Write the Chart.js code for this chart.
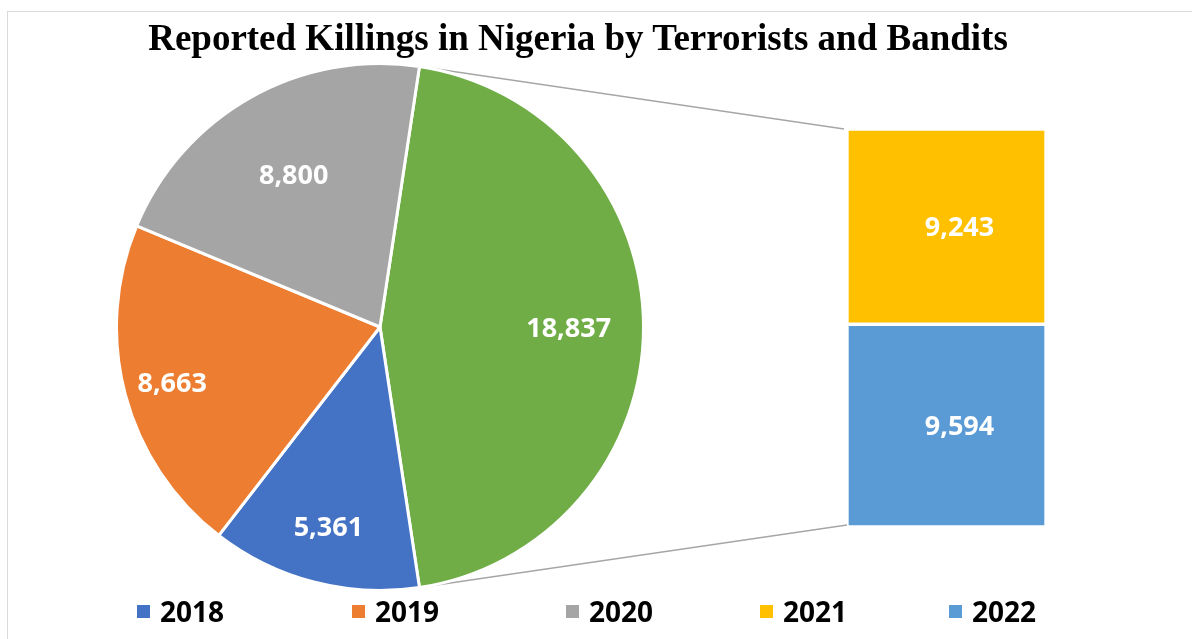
<!DOCTYPE html>
<html>
<head>
<meta charset="utf-8">
<script src="https://cdn.jsdelivr.net/npm/chart.js@4.4.1/dist/chart.umd.min.js"></script>
<style>
    html, body { margin: 0; padding: 0; background: #fff; overflow: hidden; }
    #wrap { position: relative; width: 1192px; height: 639px; overflow: hidden; }
    #frame { position: absolute; left: 7px; top: 11px; width: 1300px; height: 800px; border: 1px solid #d9d9d9; }
    #title {
        position: absolute; left: 0; top: 19px; width: 1156px; text-align: center;
        font-family: "Liberation Serif", "Times New Roman", serif; font-weight: bold; font-size: 37px; line-height: 37px;
        color: #000;
    }
    #pieBox { position: absolute; left: 115px; top: 62px; width: 530px; height: 530px; }
    #barBox { position: absolute; left: 847px; top: 129px; width: 199px; height: 398px; }
    #overlay { position: absolute; left: 0; top: 0; }
    .leg { position: absolute; top: 596px; height: 30px; display: flex; align-items: center;
        font-family: "Open Sans", sans-serif; font-weight: bold; font-size: 28px; color: #000; }
    .leg span.box { width: 13px; height: 13px; margin-right: 10px; display: inline-block; }
</style>
</head>
<body>
<div id="wrap">
    <div id="frame"></div>
    <canvas id="overlay" width="1192" height="639"></canvas>
    <div id="title">Reported Killings in Nigeria by Terrorists and Bandits</div>
    <div id="pieBox"><canvas id="pieChart"></canvas></div>
    <div id="barBox"><canvas id="barChart"></canvas></div>
    <div id="legend"></div>
</div>
<script>
// data
const years = ['2018', '2019', '2020', '2021', '2022'];
const killings = [5361, 8663, 8800, 9243, 9594];
const colours = ['#4472C4', '#ED7D31', '#A5A5A5', '#FFC000', '#5B9BD5'];

// 2021 and 2022 are split out into the bar on the right
const pieLabels = ['Other', '2018', '2019', '2020'];
const otherTotal = killings[3] + killings[4];
const pieValues = [otherTotal, killings[0], killings[1], killings[2]];
const pieColours = ['#70AD47', colours[0], colours[1], colours[2]];
const pieTotal = pieValues.reduce((a, b) => a + b, 0);

// where the labels sit inside each slice (fraction of radius)
const labelRadius = [0.716, 0.78, 0.816, 0.667];
const fmt = v => v.toLocaleString('en-US');
const labelSize = 27;
const labelFont = 'bold ' + labelSize + 'px "Open Sans", sans-serif';
// digits are ~0.714em tall, so put the baseline half that below the centre
const baseShift = labelSize * 0.714 / 2;

const pieLabelPlugin = {
    id: 'pieLabels',
    afterDatasetsDraw(chart) {
        const ctx = chart.ctx;
        const meta = chart.getDatasetMeta(0);
        ctx.save();
        ctx.font = labelFont;
        ctx.fillStyle = '#fff';
        ctx.textAlign = 'center';
        ctx.textBaseline = 'alphabetic';
        meta.data.forEach((arc, i) => {
            const p = arc.getProps(['x', 'y', 'startAngle', 'endAngle', 'outerRadius'], true);
            const mid = (p.startAngle + p.endAngle) / 2;
            const r = p.outerRadius * labelRadius[i];
            ctx.fillText(fmt(pieValues[i]), p.x + Math.cos(mid) * r, p.y + Math.sin(mid) * r + baseShift);
        });
        ctx.restore();
    }
};

const barLabelPlugin = {
    id: 'barLabels',
    afterDatasetsDraw(chart) {
        const ctx = chart.ctx;
        ctx.save();
        ctx.font = labelFont;
        ctx.fillStyle = '#fff';
        ctx.textAlign = 'center';
        ctx.textBaseline = 'alphabetic';
        chart.data.datasets.forEach((ds, i) => {
            const bar = chart.getDatasetMeta(i).data[0];
            const p = bar.getProps(['x', 'y', 'base'], true);
            ctx.fillText(fmt(ds.data[0]), p.x + 13, (p.y + p.base) / 2 + baseShift);
        });
        ctx.restore();
    }
};

const pieChart = new Chart(document.getElementById('pieChart'), {
    type: 'pie',
    data: {
        labels: pieLabels,
        datasets: [{
            data: pieValues,
            backgroundColor: pieColours,
            borderColor: '#fff',
            borderWidth: 3
        }]
    },
    options: {
        responsive: true,
        maintainAspectRatio: false,
        animation: false,
        rotation: 90 - (otherTotal / pieTotal * 360) / 2,
        layout: { padding: 0 },
        plugins: { legend: { display: false }, tooltip: { enabled: false } }
    },
    plugins: [pieLabelPlugin]
});

const barChart = new Chart(document.getElementById('barChart'), {
    type: 'bar',
    data: {
        labels: ['Other'],
        datasets: [
            { label: years[4], data: [killings[4]], backgroundColor: colours[4] },
            { label: years[3], data: [killings[3]], backgroundColor: colours[3] }
        ]
    },
    options: {
        responsive: true,
        maintainAspectRatio: false,
        animation: false,
        layout: { padding: 0 },
        datasets: {
            bar: { barPercentage: 1, categoryPercentage: 1, borderColor: '#fff', borderWidth: 2, borderSkipped: false }
        },
        scales: {
            x: { display: false, stacked: true },
            y: { display: false, stacked: true, min: 0, max: otherTotal }
        },
        plugins: { legend: { display: false }, tooltip: { enabled: false } }
    },
    plugins: [barLabelPlugin]
});

// connector lines from the "other" slice edges to the bar corners
function drawConnectors() {
    const ov = document.getElementById('overlay').getContext('2d');
    ov.clearRect(0, 0, 1192, 639);
    const pieRect = pieChart.canvas.getBoundingClientRect();
    const barRect = barChart.canvas.getBoundingClientRect();
    const wrapRect = document.getElementById('wrap').getBoundingClientRect();
    const arc = pieChart.getDatasetMeta(0).data[0].getProps(['x', 'y', 'startAngle', 'endAngle', 'outerRadius'], true);
    const top = barChart.getDatasetMeta(1).data[0].getProps(['x', 'y', 'width'], true);
    const bottom = barChart.getDatasetMeta(0).data[0].getProps(['x', 'base', 'width'], true);
    const px = pieRect.left - wrapRect.left, py = pieRect.top - wrapRect.top;
    const bx = barRect.left - wrapRect.left, by = barRect.top - wrapRect.top;
    const a1 = [px + arc.x + Math.cos(arc.startAngle) * arc.outerRadius, py + arc.y + Math.sin(arc.startAngle) * arc.outerRadius];
    const a2 = [px + arc.x + Math.cos(arc.endAngle) * arc.outerRadius, py + arc.y + Math.sin(arc.endAngle) * arc.outerRadius];
    const b1 = [bx + top.x - top.width / 2 - 3, by + top.y];
    const b2 = [bx + bottom.x - bottom.width / 2, by + bottom.base - 2];
    ov.strokeStyle = '#a6a6a6';
    ov.lineWidth = 1.5;
    ov.beginPath();
    ov.moveTo(a1[0], a1[1]); ov.lineTo(b1[0], b1[1]);
    ov.moveTo(a2[0], a2[1]); ov.lineTo(b2[0], b2[1]);
    ov.stroke();
}
drawConnectors();

// legend
const legendLeft = [137, 352, 566, 760, 949];
const legend = document.getElementById('legend');
years.forEach((y, i) => {
    const item = document.createElement('div');
    item.className = 'leg';
    item.style.left = legendLeft[i] + 'px';
    item.innerHTML = '<span class="box" style="background:' + colours[i] + '"></span>' + y;
    legend.appendChild(item);
});
</script>
</body>
</html>
